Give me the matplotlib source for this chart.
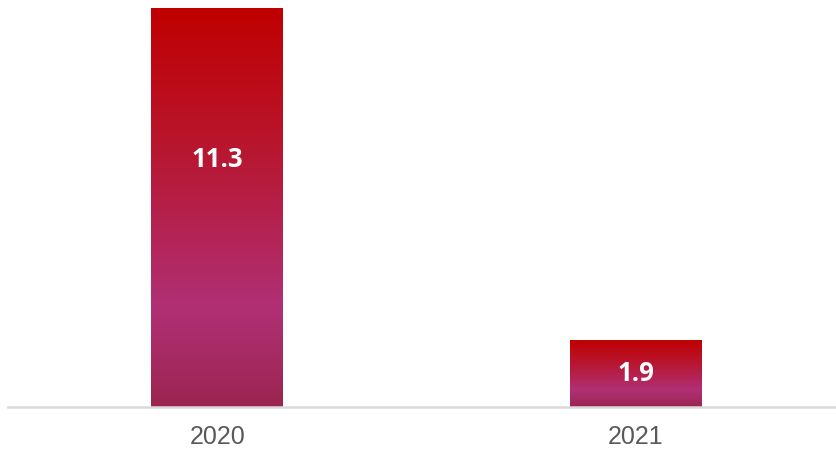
import matplotlib
matplotlib.use("Agg")
import matplotlib.pyplot as plt
import numpy as np
from matplotlib.colors import LinearSegmentedColormap

categories = ["2020", "2021"]
values = [11.3, 1.9]
value_labels = ["11.3", "1.9"]

label_frac = [0.62, 0.5]

fig = plt.figure(figsize=(8.37, 4.55), dpi=100)
ax = fig.add_axes([8/837, 48/455, 829/837, 407/455])

x = np.arange(len(categories))
bw = 0.315
bars = ax.bar(x, values, width=bw, color="none", edgecolor="none", zorder=2)

cmap = LinearSegmentedColormap.from_list(
    "g", [(0.0, "#C00000"), (0.35, "#B8162F"), (0.75, "#B03075"), (1.0, "#9C2550")])
grad = np.linspace(0, 1, 256).reshape(-1, 1)
for b in bars:
    x0, w, h = b.get_x(), b.get_width(), b.get_height()
    im = ax.imshow(grad, cmap=cmap, aspect="auto", extent=[x0, x0 + w, 0, h],
                   origin="upper", zorder=2, interpolation="bilinear")
    im.set_clip_path(b)

for i, (v, lab) in enumerate(zip(values, value_labels)):
    ax.text(x[i], v * label_frac[i], lab, ha="center", va="center", color="white",
            fontsize=18.5, fontweight="bold", family="Open Sans", zorder=3)

ax.set_xlim(-0.5, 1.48)
ax.set_ylim(0, 11.53)
for s in ["top", "right", "left"]:
    ax.spines[s].set_visible(False)
ax.spines["bottom"].set_color("#D9D9D9")
ax.spines["bottom"].set_linewidth(1.8)
ax.set_yticks([])
ax.set_xticks(x)
ax.set_xticklabels(categories, fontsize=18, color="#595959", family="Liberation Sans")
ax.tick_params(axis="x", length=0, pad=13)

fig.savefig("out.png", dpi=100)
